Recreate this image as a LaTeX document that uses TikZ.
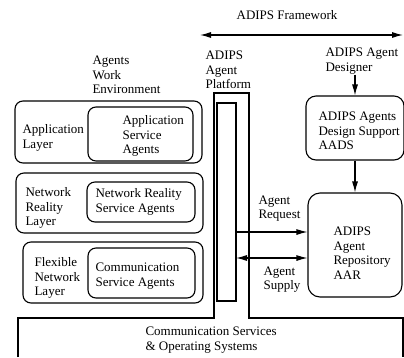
\documentclass[tikz,border=0pt]{standalone}
\usepackage{fontspec}
\setmainfont{Liberation Serif}
\usetikzlibrary{arrows.meta}

\begin{document}
\begin{tikzpicture}[x=1pt, y=-1pt, line width=1.1pt,
        every node/.style={font=\fontsize{13}{14.5}\selectfont}]
        \tikzstyle{textStyle} = [inner sep=0pt, anchor=west, align=left]
        \tikzstyle{boxStyle} = [draw=black, rounded corners=8pt, inner sep=0pt]
        \tikzstyle{arrowEdge} = [draw=black, -{Latex[length=11pt,width=6pt]}]
        \tikzstyle{twoWayEdge} = [draw=black, {Latex[length=11pt,width=6pt]}-{Latex[length=11pt,width=6pt]}]
        \useasboundingbox (0,0) rectangle (404,357);
        % framework header
        \node[inner sep=0pt] (fw) at (287,15) {ADIPS Framework};
        \coordinate (fwL) at (200,35);
        \coordinate (fwR) at (403,35);
        \draw[twoWayEdge] (fwL) -- (fwR);
        % base and platform
        \draw (18,357) -- (18,318) -- (214,318) -- (214,93) -- (249,93)
              -- (249,318) -- (403,318) -- (403,357);
        \node[draw=black, minimum width=19pt, minimum height=198pt,
              inner sep=0pt] (platIn) at (226.5,202) {};
        \node[textStyle] (base) at (145,340) {Communication Services\\\& Operating Systems};
        \node[textStyle] (plat) at (205,70) {ADIPS\\Agent\\Platform};
        \node[textStyle] (env) at (92,75) {Agents\\Work\\Environment};
        % layers
        \node[boxStyle, minimum width=187pt, minimum height=62pt] (appLayer) at (108.5,132) {};
        \node[boxStyle, minimum width=187pt, minimum height=60pt] (netLayer) at (109.5,203) {};
        \node[boxStyle, minimum width=180pt, minimum height=61pt] (flexLayer) at (113,272.5) {};
        \node[boxStyle, minimum width=105pt, minimum height=54pt] (appAgents) at (140.5,134) {};
        \node[boxStyle, minimum width=108pt, minimum height=40pt] (netAgents) at (141,202) {};
        \node[boxStyle, minimum width=107pt, minimum height=50pt] (comAgents) at (141.5,273) {};
        \node[textStyle] (appLayerTxt) at (22,138) {Application\\Layer};
        \node[textStyle] (netLayerTxt) at (25,208) {Network\\Reality\\Layer};
        \node[textStyle] (flexLayerTxt) at (34,278) {Flexible\\Network\\Layer};
        \node[textStyle] (appAgentsTxt) at (122,136) {Application\\Service\\Agents};
        \node[textStyle] (netAgentsTxt) at (95,202) {Network Reality\\Service Agents};
        \node[textStyle] (comAgentsTxt) at (95,276) {Communication\\Service Agents};
        % designer side
        \node[textStyle] (designer) at (325,61) {ADIPS Agent\\Designer};
        \node[boxStyle, rounded corners=10pt, minimum width=98pt, minimum height=64pt] (aads) at (355,128) {};
        \node[textStyle] (aadsTxt) at (318,131) {ADIPS Agents\\Design Support\\AADS};
        \node[boxStyle, rounded corners=12pt, minimum width=94pt, minimum height=104pt] (aar) at (355,245) {};
        \node[textStyle] (aarTxt) at (333,253) {ADIPS\\Agent\\Repository\\AAR};
        \draw[arrowEdge] (aads.north |- designer.south) -- (aads.north);
        \draw[arrowEdge] (aads.south) -- (aar.north);
        % request and supply
        \coordinate (req) at (236,232);
        \coordinate (sup) at (236,258);
        \draw[arrowEdge] (req) -- (req -| aar.west);
        \draw[twoWayEdge] (sup) -- (sup -| aar.west);
        \node[textStyle] (reqTxt) at (258,208.5) {Agent\\Request};
        \node[textStyle] (supTxt) at (263,279.5) {Agent\\Supply};
\end{tikzpicture}
\end{document}
